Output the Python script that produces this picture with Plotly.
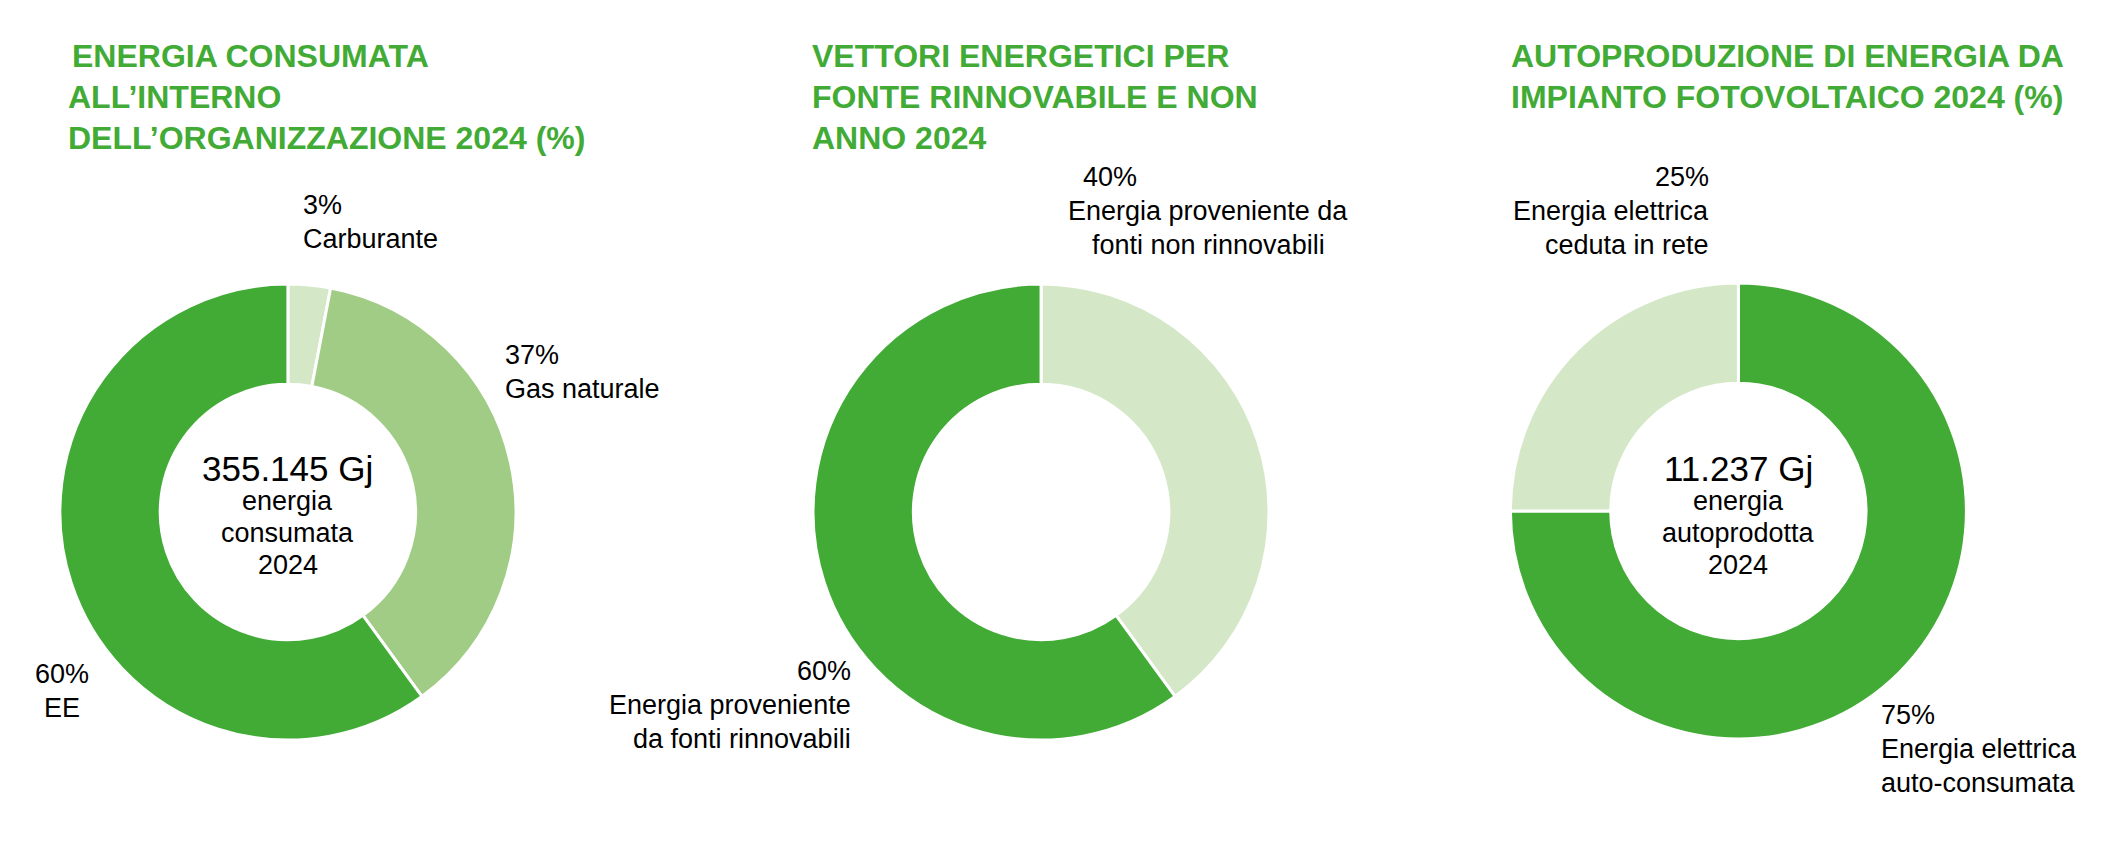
import plotly.graph_objects as go

W, H = 2119, 855

# dati
labels_1 = ["Carburante", "Gas naturale", "EE"]
values_1 = [3, 37, 60]
labels_2 = ["Energia proveniente da fonti non rinnovabili", "Energia proveniente da fonti rinnovabili"]
values_2 = [40, 60]
labels_3 = ["Energia elettrica auto-consumata", "Energia elettrica ceduta in rete"]
values_3 = [75, 25]

DARK = "#41AB36"
MID = "#A1CC86"
LIGHT = "#D4E8C7"
FONT = "Liberation Sans Narrow, Liberation Sans, Arial"

fig = go.Figure()

# piccola correzione globale delle posizioni
def fx(x):
    return x - 10 - x / W * 8

def fy(y):
    return y - 9

def add_pie(labels, values, colors, cx, cy, r=228):
    cx, cy = fx(cx), fy(cy)
    fig.add_trace(go.Pie(
        labels=labels, values=values, hole=0.56, sort=False, direction="clockwise",
        rotation=0, textinfo="none", showlegend=False,
        marker=dict(colors=colors, line=dict(color="white", width=3)),
        domain=dict(x=[(cx - r) / W, (cx + r) / W], y=[1 - (cy + r) / H, 1 - (cy - r) / H]),
    ))

add_pie(labels_1, values_1, [LIGHT, MID, DARK], 291, 513)
add_pie(labels_2, values_2, [LIGHT, DARK], 1047, 513)
add_pie(labels_3, values_3, [DARK, LIGHT], 1747, 512)

def text(lines, x, y, align="left", size=27, color="black", bold=False, step=34):
    x, y = fx(x), fy(y)
    for i, t in enumerate(lines):
        fig.add_annotation(
            x=x / W, y=1 - (y + i * step) / H, xref="paper", yref="paper",
            text=f"<b>{t}</b>" if bold else t, showarrow=False,
            xanchor=align, yanchor="middle",
            font=dict(family=FONT, size=size, color=color),
        )

# titoli
text(["ENERGIA CONSUMATA"], 72, 57, size=32, color=DARK, bold=True, step=41)
text(["ALL’INTERNO", "DELL’ORGANIZZAZIONE 2024 (%)"], 68, 98, size=32, color=DARK, bold=True, step=41)
text(["VETTORI ENERGETICI PER", "FONTE RINNOVABILE E NON", "ANNO 2024"], 815, 57, size=32, color=DARK, bold=True, step=41)
text(["AUTOPRODUZIONE DI ENERGIA DA", "IMPIANTO FOTOVOLTAICO 2024 (%)"], 1517, 57, size=32, color=DARK, bold=True, step=41)

# etichette
text(["3%", "Carburante"], 304, 206)
text(["37%", "Gas naturale"], 507, 356)
text(["60%", "EE"], 64, 675, align="center")
text(["40%"], 1087, 178)
text(["Energia proveniente da", "fonti non rinnovabili"], 1215, 212, align="center")
text(["60%"], 858, 672, align="right")
text(["Energia proveniente", "da fonti rinnovabili"], 858, 706, align="right")
text(["25%", "Energia elettrica", "ceduta in rete"], 1719, 178, align="right")
text(["75%", "Energia elettrica", "auto-consumata"], 1888, 716)

# testo centrale
text(["355.145 Gj"], 291, 469, align="center", size=35)
text(["energia", "consumata", "2024"], 291, 502, align="center", size=27, step=32)
text(["11.237 Gj"], 1747, 469, align="center", size=35)
text(["energia", "autoprodotta", "2024"], 1747, 502, align="center", size=27, step=32)

fig.update_layout(
    width=W, height=H, margin=dict(l=0, r=0, t=0, b=0),
    paper_bgcolor="white", plot_bgcolor="white",
)

fig.write_html("out.html")
